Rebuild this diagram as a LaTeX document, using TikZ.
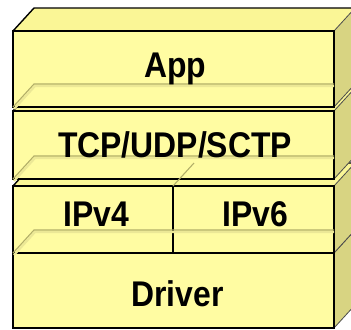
\documentclass[tikz,border=0pt]{standalone}
\usepackage{fontspec}
\setmainfont{Liberation Sans}
\definecolor{frontc}{RGB}{255,252,162}
\definecolor{topc}{RGB}{250,246,150}
\definecolor{sidec}{RGB}{216,212,130}
\definecolor{hidc}{RGB}{178,174,104}
\definecolor{hidl}{RGB}{236,232,150}
\newcommand\stretchtxt[1]{\scalebox{1}[1.12]{#1}}
\newcommand\drawlayer[2]{%
  \fill[topc] (13,#1) -- (34,#1-23) -- (355,#1-23) -- (334,#1) -- cycle;
  \draw[edge] (13,#1) -- (34,#1-23) -- (355,#1-23);
  \filldraw[sidec, draw=black!70, line width=0.8] (334,#1) -- (355,#1-23) -- (355,#2-23) -- (334,#2) -- cycle;
  \filldraw[frontc, edge] (13,#1) rectangle (334,#2);
}
\newcommand\hiddenlines[1]{%
  \draw[hidl, line width=2.2] (14,#1+2) -- (35,#1-21) -- (334,#1-21);
  \draw[hidc, line width=1.1] (13,#1) -- (34,#1-23) -- (334,#1-23);
}
\begin{document}
\begin{tikzpicture}[x=1bp, y=-1bp,
  edge/.style={draw=black, line width=1.4},
  lab/.style={anchor=base, inner sep=0pt, font=\fontsize{32}{32}\selectfont\bfseries}]
\useasboundingbox (0,0) rectangle (351,330);
\clip (0,0) rectangle (351,330);
\fill[white] (0,0) rectangle (351,330);
% Driver
\drawlayer{253}{328}
% IP layer
\drawlayer{186}{253}
\draw[edge] (173,186) -- (173,253);
\hiddenlines{253}
% TCP layer
\drawlayer{111}{179}
\hiddenlines{179}
\draw[hidc, line width=1.1] (173,186) -- (194,163);
% App layer
\drawlayer{31}{107}
\hiddenlines{107}
% labels
\node[lab] (app) at (175,77) {\stretchtxt{App}};
\node[lab] (tcp) at (175,157) {\stretchtxt{TCP/UDP/SCTP}};
\node[lab] (ipv4) at (96.5,226) {\stretchtxt{IPv4}};
\node[lab] (ipv6) at (255.5,226) {\stretchtxt{IPv6}};
\node[lab] (drv) at (177.5,306) {\stretchtxt{Driver}};
\end{tikzpicture}
\end{document}
